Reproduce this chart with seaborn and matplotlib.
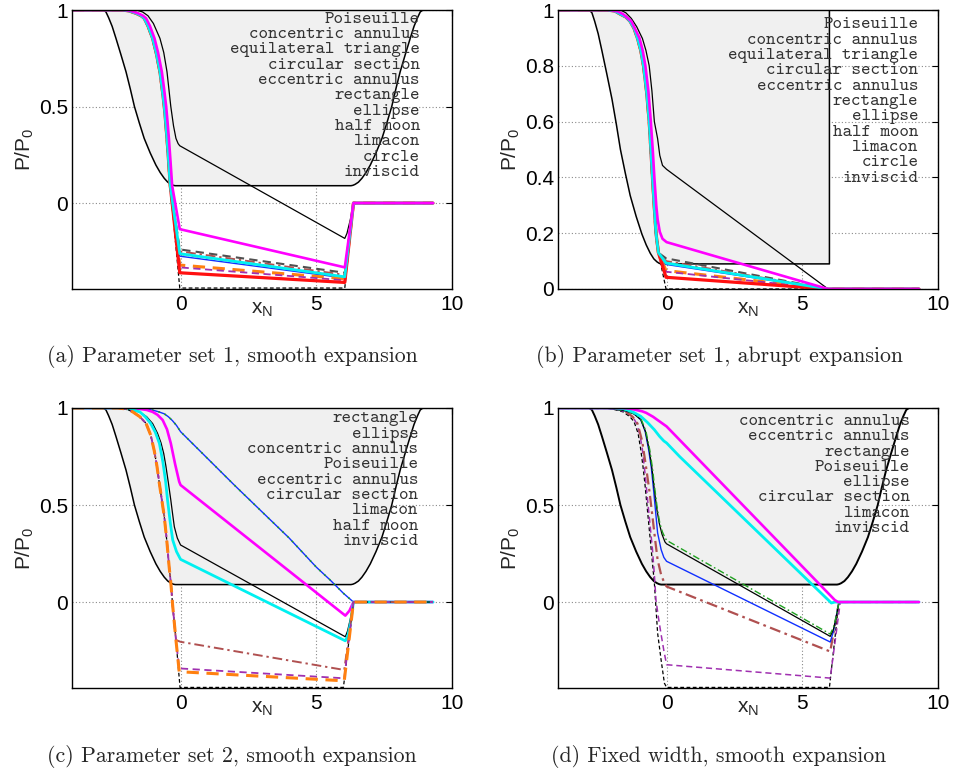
import matplotlib
matplotlib.use("Agg")
import matplotlib.pyplot as plt
import seaborn as sns

# ---------------- channel geometry (shaded region) ----------------
geom_x = [-4.0, -2.85, -2.75, -2.65, -2.52, -2.38, -2.2, -2.01, -1.85, -1.70, -1.52, -1.34,
          -1.12, -0.91, -0.75, -0.60, -0.47, -0.35, -0.27, -0.20,
          6.28, 6.35, 6.43, 6.55, 6.68, 6.83, 6.99, 7.2, 7.42, 7.6, 7.78, 7.93, 8.09, 8.28,
          8.46, 8.6, 8.73, 8.83, 8.93, 9.3]
geom_y = [1.0, 1.0, 0.99, 0.96, 0.915, 0.853, 0.77, 0.68, 0.59, 0.50, 0.415, 0.335,
          0.26, 0.197, 0.158, 0.128, 0.108, 0.097, 0.092, 0.09,
          0.09, 0.092, 0.097, 0.108, 0.128, 0.158, 0.197, 0.26, 0.335, 0.415, 0.50, 0.59,
          0.68, 0.77, 0.853, 0.915, 0.96, 0.99, 1.0, 1.0]
geom_abrupt_x = [-4.0, -2.85, -2.75, -2.65, -2.52, -2.38, -2.2, -2.01, -1.85, -1.70, -1.52,
                 -1.34, -1.12, -0.91, -0.75, -0.60, -0.47, -0.35, -0.27, -0.20,
                 6.0, 6.0, 9.3]
geom_abrupt_y = [1.0, 1.0, 0.99, 0.96, 0.915, 0.853, 0.77, 0.68, 0.59, 0.50, 0.415,
                 0.335, 0.26, 0.197, 0.158, 0.128, 0.108, 0.097, 0.092, 0.09,
                 0.09, 1.0, 1.0]

# ---------------- (a) parameter set 1, smooth expansion ----------------
a_head_x = [-4.0, -2.13, -1.9, -1.64, -1.45, -1.34, -1.2, -1.03, -0.9, -0.76, -0.68, -0.60,
            -0.55, -0.50, -0.44, -0.38]
a_head_y = [1.0, 1.0, 0.995, 0.983, 0.97, 0.957, 0.918, 0.853, 0.78, 0.68, 0.595, 0.50,
            0.42, 0.335, 0.215, 0.09]
a_mag_head_x = [-4.0, -2.06, -1.83, -1.57, -1.38, -1.27, -1.13, -0.96, -0.83, -0.69, -0.61,
                -0.53, -0.48, -0.43, -0.37, -0.31]
a_tail_x = [-0.03, 6.05, 6.37, 9.3]
a_poiseuille_x = [-4.0, -1.64, -1.4, -1.2, -1.0, -0.76, -0.62, -0.50, -0.43, -0.36, -0.26,
                  -0.17, -0.09, -0.03, 6.05, 6.13, 6.25, 6.37, 9.3]
a_poiseuille_y = [1.0, 1.0, 0.99, 0.97, 0.93, 0.853, 0.78, 0.68, 0.59, 0.50, 0.40,
                  0.335, 0.308, 0.297, -0.183, -0.157, -0.088, 0.0, 0.0]
a_magenta = [-0.135, -0.333, 0.0, 0.0]
a_gray = [-0.240, -0.361, 0.0, 0.0]
a_brown = [-0.250, -0.372, 0.0, 0.0]
a_green = [-0.265, -0.383, 0.0, 0.0]
a_cyan = [-0.262, -0.382, 0.0, 0.0]
a_blue = [-0.275, -0.388, 0.0, 0.0]
a_orange = [-0.321, -0.392, 0.0, 0.0]
a_purple = [-0.333, -0.400, 0.0, 0.0]
a_red = [-0.361, -0.411, 0.0, 0.0]
a_black_dash = [-0.440, -0.440, 0.0, 0.0]

# ---------------- (b) parameter set 1, abrupt expansion ----------------
b_head_x = [-4.0, -2.18, -1.9, -1.7, -1.5, -1.35, -1.2, -1.07, -0.95, -0.85, -0.74, -0.64,
            -0.58, -0.52, -0.45, -0.39, -0.30]
b_head_y = [1.0, 1.0, 0.996, 0.985, 0.975, 0.96, 0.935, 0.898, 0.855, 0.80, 0.71, 0.60,
            0.50, 0.40, 0.29, 0.20, 0.13]
b_tail_x = [-0.02, 5.95, 9.3]
b_poiseuille_x = [-4.0, -1.7, -1.5, -1.3, -1.1, -0.89, -0.76, -0.64, -0.54, -0.45, -0.33,
                  -0.25, -0.15, 0.0, 5.95, 9.3]
b_poiseuille_y = [1.0, 1.0, 0.99, 0.97, 0.94, 0.898, 0.855, 0.80, 0.71, 0.60, 0.539,
                  0.479, 0.443, 0.429, 0.0, 0.0]
b_magenta_x = [-4.0, -2.1, -1.8, -1.6, -1.3, -1.0, -0.88, -0.78, -0.67, -0.58, -0.51, -0.45,
               -0.38, -0.33, -0.25, -0.15, 0.0, 5.95, 9.3]
b_magenta_y = [1.0, 1.0, 0.995, 0.985, 0.96, 0.90, 0.855, 0.80, 0.71, 0.60, 0.50, 0.40,
               0.30, 0.25, 0.205, 0.18, 0.168, 0.0, 0.0]
b_gray = [0.110, 0.0, 0.0]
b_brown = [0.100, 0.0, 0.0]
b_green = [0.092, 0.0, 0.0]
b_cyan = [0.093, 0.0, 0.0]
b_blue = [0.088, 0.0, 0.0]
b_orange = [0.066, 0.0, 0.0]
b_purple = [0.062, 0.0, 0.0]
b_red = [0.042, 0.0, 0.0]
b_black_dash = [0.0, 0.0, 0.0]

# ---------------- (c) parameter set 2, smooth expansion ----------------
c_rect_x = [-4.0, -1.8, -1.5, -1.2, -1.0, -0.8, -0.6, -0.45, -0.3, -0.15, 0.0, 2.0, 4.0,
            5.0, 5.5, 6.0, 6.37, 9.3]
c_rect_y = [1.0, 1.0, 0.997, 0.993, 0.988, 0.98, 0.97, 0.955, 0.935, 0.91, 0.878, 0.60, 0.33,
            0.18, 0.115, 0.045, 0.0, 0.0]
c_magenta_x = [-4.0, -2.0, -1.5, -1.25, -1.03, -0.85, -0.66, -0.5, -0.36, -0.2, -0.05, 0.0,
               6.07, 6.22, 6.37, 9.3]
c_magenta_y = [1.0, 1.0, 0.995, 0.99, 0.98, 0.965, 0.938, 0.89, 0.818, 0.71, 0.62, 0.603,
               -0.07, -0.045, 0.0, 0.0]
c_poiseuille_x = [-4.0, -2.2, -1.9, -1.52, -1.25, -1.03, -0.85, -0.72, -0.62, -0.54, -0.45,
                  -0.36, -0.29, -0.23, -0.12, 0.0, 6.07, 6.15, 6.25, 6.37, 9.3]
c_poiseuille_y = [1.0, 1.0, 0.995, 0.98, 0.955, 0.92, 0.87, 0.82, 0.765, 0.70, 0.615,
                  0.526, 0.45, 0.388, 0.33, 0.294, -0.179, -0.15, -0.09, 0.0, 0.0]
c_cyan_x = [-4.0, -2.2, -1.9, -1.5, -1.3, -1.1, -0.93, -0.78, -0.65, -0.55, -0.48, -0.38,
            -0.29, -0.15, 0.0, 6.07, 6.17, 6.27, 6.37, 9.3]
c_cyan_y = [1.0, 1.0, 0.995, 0.98, 0.955, 0.92, 0.875, 0.818, 0.72, 0.62, 0.526, 0.41,
            0.32, 0.26, 0.22, -0.20, -0.17, -0.10, 0.0, 0.0]
c_head_x = [-4.0, -2.3, -2.0, -1.76, -1.5, -1.27, -1.1, -0.97, -0.87, -0.78, -0.69, -0.60,
            -0.51, -0.42, -0.36, -0.29, -0.17]
c_head_y = [1.0, 1.0, 0.995, 0.98, 0.955, 0.92, 0.86, 0.78, 0.70, 0.61, 0.525, 0.44,
            0.32, 0.18, 0.10, -0.02, -0.196]
c_brown_x = [0.0, 6.03, 6.37, 9.3]
c_brown_y = [-0.205, -0.350, 0.0, 0.0]
c_purple_x = [-0.05, 6.03, 6.37, 9.3]
c_purple_y = [-0.342, -0.393, 0.0, 0.0]
c_orange_x = [-0.05, 6.03, 6.37, 9.3]
c_orange_y = [-0.359, -0.406, 0.0, 0.0]
c_black_dash_x = [-0.02, 6.0, 6.37, 9.3]
c_black_dash_y = [-0.440, -0.440, 0.0, 0.0]

# ---------------- (d) fixed width, smooth expansion ----------------
d_magenta_x = [-4.0, -1.6, -1.35, -1.12, -0.9, -0.75, -0.5, -0.2, 0.0, 6.2, 6.32, 9.3]
d_magenta_y = [1.0, 1.0, 0.997, 0.99, 0.983, 0.975, 0.955, 0.925, 0.905, 0.01, 0.0, 0.0]
d_cyan_x = [-4.0, -1.9, -1.56, -1.25, -0.95, -0.7, -0.45, -0.26, -0.1, 0.0, 0.48, 6.07,
            6.2, 9.3]
d_cyan_y = [1.0, 1.0, 0.995, 0.98, 0.957, 0.925, 0.888, 0.854, 0.83, 0.82, 0.75, -0.005,
            0.0, 0.0]
d_poiseuille_x = [-4.0, -2.3, -2.0, -1.5, -1.2, -0.95, -0.78, -0.64, -0.54, -0.45, -0.36,
                  -0.27, -0.17, -0.06, 0.0, 6.03, 6.15, 6.25, 6.35, 9.3]
d_poiseuille_y = [1.0, 1.0, 0.997, 0.985, 0.97, 0.94, 0.88, 0.785, 0.69, 0.579, 0.48,
                  0.407, 0.35, 0.31, 0.30, -0.177, -0.14, -0.08, 0.0, 0.0]
d_green_x = [-4.0, -2.3, -2.0, -1.5, -1.2, -0.93, -0.76, -0.62, -0.52, -0.43, -0.34,
             -0.25, -0.15, -0.05, 0.0, 6.03, 6.15, 6.25, 6.35, 9.3]
d_green_y = [1.0, 1.0, 0.997, 0.985, 0.97, 0.94, 0.88, 0.785, 0.69, 0.579, 0.48,
             0.407, 0.36, 0.33, 0.318, -0.165, -0.13, -0.075, 0.0, 0.0]
d_blue_x = [-4.0, -2.3, -2.0, -1.5, -1.2, -0.95, -0.79, -0.66, -0.56, -0.48, -0.40, -0.33,
            -0.2, -0.1, 0.0, 6.03, 6.15, 6.35, 9.3]
d_blue_y = [1.0, 1.0, 0.997, 0.985, 0.97, 0.94, 0.88, 0.785, 0.69, 0.579, 0.46, 0.356,
            0.27, 0.23, 0.21, -0.206, -0.15, 0.0, 0.0]
d_brown_x = [-4.0, -2.1, -1.8, -1.5, -1.25, -1.07, -0.9, -0.76, -0.63, -0.52, -0.42, -0.33,
             -0.2, -0.08, 0.0, 6.03, 6.35, 9.3]
d_brown_y = [1.0, 1.0, 0.995, 0.98, 0.955, 0.92, 0.83, 0.70, 0.57, 0.44, 0.32, 0.218,
             0.14, 0.098, 0.08, -0.255, 0.0, 0.0]
d_purple_x = [-4.0, -2.2, -1.9, -1.5, -1.25, -1.1, -0.98, -0.89, -0.80, -0.70, -0.61, -0.52,
              -0.45, -0.39, -0.30, -0.21, -0.1, 0.0, 6.03, 6.4, 9.3]
d_purple_y = [1.0, 1.0, 0.995, 0.98, 0.955, 0.92, 0.86, 0.785, 0.67, 0.527, 0.40, 0.27,
              0.14, 0.01, -0.08, -0.16, -0.25, -0.323, -0.392, 0.0, 0.0]
d_black_dash_x = [-4.0, -2.3, -2.0, -1.6, -1.35, -1.2, -1.05, -0.95, -0.87, -0.80, -0.62,
                  -0.45, -0.33, -0.2, -0.08, 0.0, 6.0, 6.35, 9.3]
d_black_dash_y = [1.0, 1.0, 0.995, 0.98, 0.955, 0.93, 0.87, 0.785, 0.70, 0.613, 0.35,
                  0.098, -0.16, -0.3, -0.418, -0.44, -0.44, 0.0, 0.0]

# ---------------- labels ----------------
labels_ab = ["Poiseuille", "concentric annulus", "equilateral triangle", "circular section",
             "eccentric annulus", "rectangle", "ellipse", "half moon", "limacon", "circle",
             "inviscid"]
labels_c = ["rectangle", "ellipse", "concentric annulus", "Poiseuille", "eccentric annulus",
            "circular section", "limacon", "half moon", "inviscid"]
labels_d = ["concentric annulus", "eccentric annulus", "rectangle", "Poiseuille", "ellipse",
            "circular section", "limacon", "inviscid"]
captions = ["(a) Parameter set 1, smooth expansion", "(b) Parameter set 1, abrupt expansion",
            "(c) Parameter set 2, smooth expansion", "(d) Fixed width, smooth expansion"]
xticks = [0, 5, 10]
yticks_std = [0, 0.5, 1]
yticks_b = [0, 0.2, 0.4, 0.6, 0.8, 1]

# ---------------- styling ----------------
sns.set_theme(style="white")
plt.rcParams["font.family"] = ["Liberation Sans", "DejaVu Sans"]
plt.rcParams["mathtext.default"] = "regular"
plt.rcParams["mathtext.fontset"] = "custom"
plt.rcParams["mathtext.rm"] = "Liberation Sans"

W, H = 959, 774
fig = plt.figure(figsize=(W / 100, H / 100), dpi=100)

MAG = "#ff00ff"
CYA = "#00f0f0"
BLU = "#1030ff"
RED = "#ff1010"
ORA = "#ff8010"
PUR = "#a030b0"
BRN = "#b05050"
GRY = "#505050"
GRN = "#20a020"
BLK = "#000000"

DASH = (0, (4, 2.5))
DDOT = (0, (5, 2, 1.2, 2))
SDASH = (0, (3, 2))


def line(ax, xs, ys, color, lw, ls="-", z=3):
    sns.lineplot(x=xs, y=ys, ax=ax, color=color, linewidth=lw, linestyle=ls,
                 estimator=None, sort=False, legend=False, zorder=z)


def make_axes(px_left, px_top, px_right, px_bottom):
    return fig.add_axes([px_left / W, 1 - px_bottom / H,
                         (px_right - px_left) / W, (px_bottom - px_top) / H])


def style_axes(ax, ylim, yticks, yticklabels):
    ax.set_xlim(-4, 10)
    ax.set_ylim(*ylim)
    ax.set_xticks(xticks)
    ax.set_xticklabels([str(t) for t in xticks])
    ax.set_yticks(yticks)
    ax.set_yticklabels(yticklabels)
    ax.set_axisbelow(True)
    ax.grid(True, linestyle=(0, (1, 2)), color="#8a8a8a", linewidth=0.8)
    ax.tick_params(direction="in", top=True, right=True, length=4, width=0.8,
                   labelsize=15, colors="black")
    ax.tick_params(axis="x", pad=4)
    ax.tick_params(axis="y", pad=3)
    for s in ax.spines.values():
        s.set_color("black")
        s.set_linewidth(1.0)
        s.set_zorder(10)
    ax.set_ylabel("P/P$_0$", fontsize=15)
    ax.yaxis.set_label_coords(-0.095, 0.5)
    ax.set_xlabel("x$_N$", fontsize=15)
    ax.xaxis.set_label_coords(0.5, -0.04)


def geometry(ax, gx, gy, lw=1.1):
    ax.fill_between(gx, gy, 1.0, color="#f0f0f0", zorder=1, linewidth=0)
    line(ax, gx, gy, BLK, lw, z=2)


def put_labels(labels, px_right, py_first, step):
    for i, t in enumerate(labels):
        fig.text(px_right / W, 1 - (py_first + i * step) / H, t, ha="right", va="center",
                 fontsize=13, family="cmtt10", color="#333333", zorder=20)


# ---- panel (a)
ax = make_axes(72, 10, 452, 289)
geometry(ax, geom_x, geom_y)
line(ax, a_poiseuille_x, a_poiseuille_y, BLK, 0.9)
for vals, col, lw, ls in [(a_black_dash, BLK, 0.9, SDASH), (a_gray, GRY, 1.5, DASH),
                          (a_brown, BRN, 1.4, DDOT), (a_green, GRN, 1.0, DDOT),
                          (a_blue, BLU, 1.0, "-"), (a_orange, ORA, 2.2, DASH),
                          (a_purple, PUR, 1.3, DASH), (a_red, RED, 2.3, "-"),
                          (a_cyan, CYA, 2.0, "-")]:
    line(ax, a_head_x + a_tail_x, a_head_y + vals, col, lw, ls)
line(ax, a_mag_head_x + a_tail_x, a_head_y + a_magenta, MAG, 1.9)
style_axes(ax, (-0.445, 1.0), yticks_std, ["0", "0.5", "1"])
put_labels(labels_ab, 420, 19.3, 15.33)

# ---- panel (b)
ax = make_axes(558, 10, 938, 289)
geometry(ax, geom_abrupt_x, geom_abrupt_y)
line(ax, b_poiseuille_x, b_poiseuille_y, BLK, 0.9)
for vals, col, lw, ls in [(b_black_dash, BLK, 0.9, SDASH), (b_gray, GRY, 1.5, DASH),
                          (b_brown, BRN, 1.4, DDOT), (b_green, GRN, 1.0, DDOT),
                          (b_blue, BLU, 1.0, "-"), (b_orange, ORA, 2.2, DASH),
                          (b_purple, PUR, 1.3, DASH), (b_red, RED, 2.3, "-"),
                          (b_cyan, CYA, 2.0, "-")]:
    line(ax, b_head_x + b_tail_x, b_head_y + vals, col, lw, ls)
line(ax, b_magenta_x, b_magenta_y, MAG, 1.9)
style_axes(ax, (0.0, 1.0), yticks_b, ["0", "0.2", "0.4", "0.6", "0.8", "1"])
put_labels(labels_ab, 918.3, 25, 15.33)

# ---- panel (c)
ax = make_axes(72, 408, 452, 688)
geometry(ax, geom_x, geom_y)
line(ax, c_rect_x, c_rect_y, BLU, 1.0)
line(ax, c_rect_x, c_rect_y, GRN, 1.2, (0, (1, 3)))
line(ax, c_magenta_x, c_magenta_y, MAG, 1.9)
line(ax, c_poiseuille_x, c_poiseuille_y, BLK, 0.9)
line(ax, c_cyan_x, c_cyan_y, CYA, 2.0)
line(ax, c_head_x + c_black_dash_x, c_head_y + c_black_dash_y, BLK, 0.9, SDASH)
line(ax, c_head_x + c_brown_x, c_head_y + c_brown_y, BRN, 1.4, DDOT)
line(ax, c_head_x + c_purple_x, c_head_y + c_purple_y, PUR, 1.3, DASH)
line(ax, c_head_x + c_orange_x, c_head_y + c_orange_y, ORA, 2.2, DASH)
style_axes(ax, (-0.443, 1.0), yticks_std, ["0", "0.5", "1"])
put_labels(labels_c, 418.3, 419, 15.33)

# ---- panel (d)
ax = make_axes(558, 408, 938, 688)
geometry(ax, geom_x, geom_y, lw=1.4)
line(ax, d_black_dash_x, d_black_dash_y, BLK, 0.9, SDASH)
line(ax, d_purple_x, d_purple_y, PUR, 1.1, DASH)
line(ax, d_brown_x, d_brown_y, BRN, 1.6, DDOT)
line(ax, d_blue_x, d_blue_y, BLU, 1.0)
line(ax, d_poiseuille_x, d_poiseuille_y, BLK, 0.9)
line(ax, d_green_x, d_green_y, GRN, 1.0, DDOT)
line(ax, d_cyan_x, d_cyan_y, CYA, 2.0)
line(ax, d_magenta_x, d_magenta_y, MAG, 1.9)
style_axes(ax, (-0.443, 1.0), yticks_std, ["0", "0.5", "1"])
put_labels(labels_d, 910, 421.7, 15.23)

# ---- captions
for (cx, cy), cap in zip([(232, 357), (719, 357), (232, 757), (719, 757)], captions):
    fig.text(cx / W, 1 - cy / H, cap, ha="center", va="center", fontsize=15.7,
             family="cmr10")

fig.savefig("out.png", dpi=100)
